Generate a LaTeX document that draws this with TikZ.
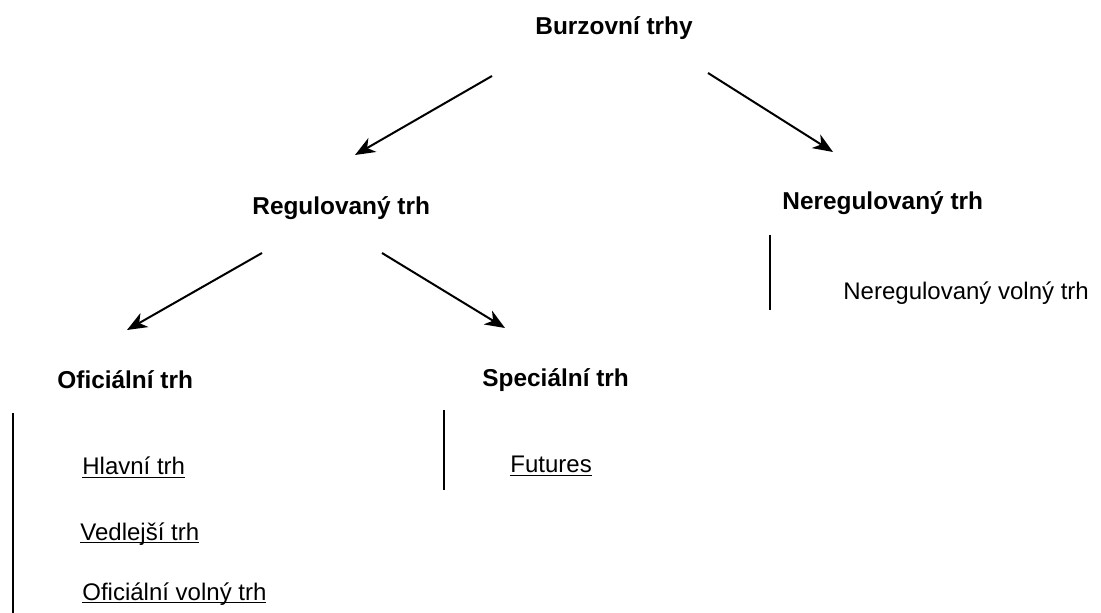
\documentclass[tikz,border=0pt]{standalone}
\usepackage{fontspec}
\setmainfont{Liberation Sans}
\usetikzlibrary{arrows.meta}

\begin{document}
\begin{tikzpicture}[x=0.5pt,y=-0.5pt,
    head/.style={font=\fontsize{12.2pt}{14pt}\selectfont\bfseries, inner sep=0pt, anchor=base west},
    item/.style={font=\fontsize{12pt}{14pt}\selectfont, inner sep=0pt, anchor=base west},
    link/.style={-{Stealth[length=10pt,width=8pt,inset=3pt]}, line width=1pt},
    bar/.style={line width=1pt}]
\useasboundingbox (0,0) rectangle (1101,613);

% Top level
\node[head] (burz) at (535,35) {Burzovní trhy};

% Second level
\node[head] (reg) at (252,215) {Regulovaný trh};
\node[head] (nereg) at (782,210) {Neregulovaný trh};

% Third level
\node[head] (ofi) at (57,389) {Oficiální trh};
\node[head] (spec) at (482,387) {Speciální trh};

% Arrow ends
\coordinate (b1) at (492,76);
\coordinate (b1tip) at (355,155);
\coordinate (b2) at (708,73);
\coordinate (b2tip) at (833,152);
\coordinate (r1) at (262,253);
\coordinate (r1tip) at (127,330);
\coordinate (r2) at (382,253);
\coordinate (r2tip) at (505,328);

% Arrows
\draw[link] (b1) -- (b1tip);
\draw[link] (b2) -- (b2tip);
\draw[link] (r1) -- (r1tip);
\draw[link] (r2) -- (r2tip);

% Unregulated market
\draw[bar] (770,235) -- (770,310);
\node[item] (nervol) at (843,300) {Neregulovaný volný trh};

% Official market
\draw[bar] (13,413) -- (13,613);
\node[item] (hlav) at (82,475) {\underline{\smash{Hlavní trh}}};
\node[item] (vedl) at (80,540) {\underline{\smash{Vedlejší trh}}};
\node[item] (ofvol) at (82,600) {\underline{\smash{Oficiální volný trh}}};

% Special market
\draw[bar] (444,410) -- (444,490);
\node[item] (fut) at (510,473) {\underline{\smash{Futures}}};

\end{tikzpicture}
\end{document}
